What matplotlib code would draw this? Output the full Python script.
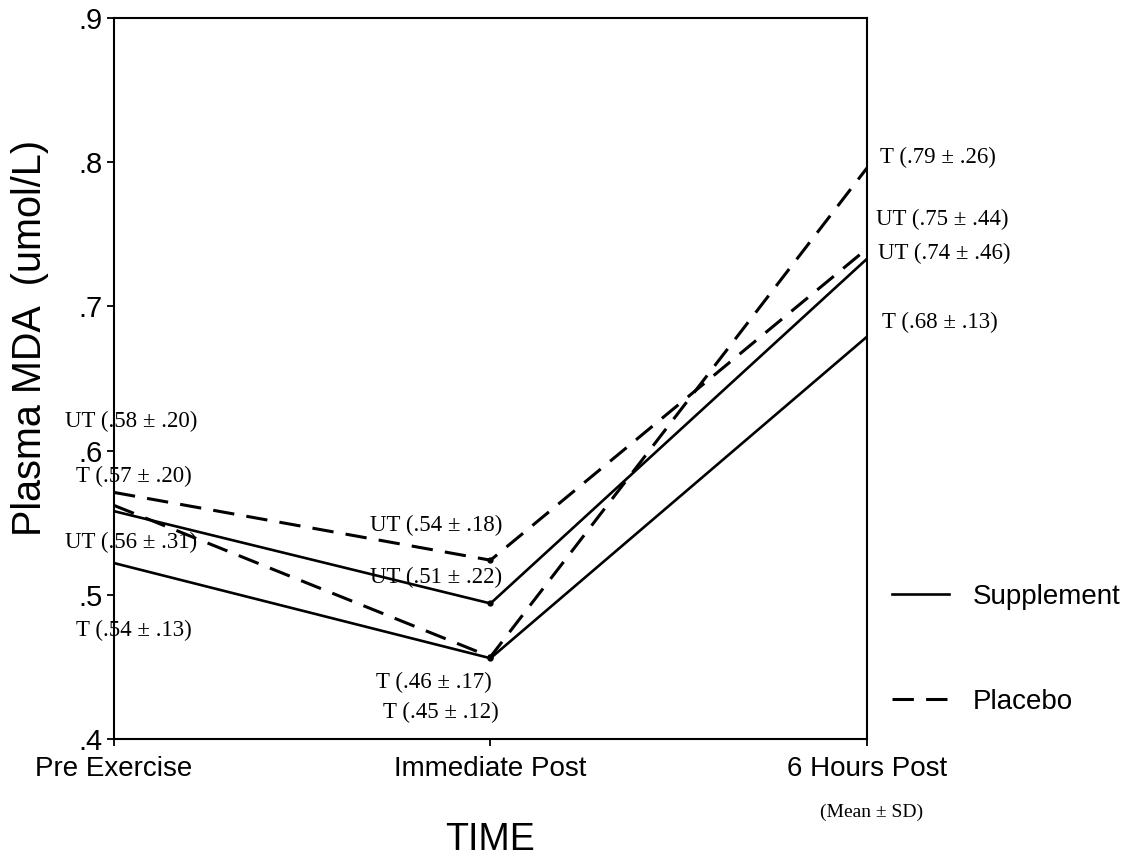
import matplotlib
matplotlib.use("Agg")
import matplotlib.pyplot as plt

# data
categories = ["Pre Exercise", "Immediate Post", "6 Hours Post"]
x = [0, 1, 2]
supp_T = [0.522, 0.456, 0.679]
supp_UT = [0.558, 0.494, 0.733]
plac_T = [0.562, 0.457, 0.796]
plac_UT = [0.571, 0.524, 0.740]

yticks = [0.4, 0.5, 0.6, 0.7, 0.8, 0.9]
ytick_labels = [".4", ".5", ".6", ".7", ".8", ".9"]

# printed annotations: group, mean, sd
pre_notes = [("UT", 0.58, 0.20), ("T", 0.57, 0.20), ("UT", 0.56, 0.31), ("T", 0.54, 0.13)]
imm_notes = [("UT", 0.54, 0.18), ("UT", 0.51, 0.22), ("T", 0.46, 0.17), ("T", 0.45, 0.12)]
post_notes = [("T", 0.79, 0.26), ("UT", 0.75, 0.44), ("UT", 0.74, 0.46), ("T", 0.68, 0.13)]

# where the notes sit (axes data coords)
pre_pos = [(0.045, 0.6205), (0.053, 0.5824), (0.045, 0.5366), (0.053, 0.4756)]
imm_pos = [(0.857, 0.5484), (0.855, 0.5123), (0.850, 0.4395), (0.867, 0.4187)]
post_pos = [(2.035, 0.8036), (2.025, 0.7606), (2.028, 0.737), (2.040, 0.689)]

sans = ["Liberation Sans", "DejaVu Sans"]
serif = ["Liberation Serif", "DejaVu Serif"]


def fmt(v):
    return f"{v:.2f}"[1:]


def note(g, m, s):
    return f"{g} ({fmt(m)} \u00b1 {fmt(s)})"


fig = plt.figure(figsize=(11.3, 8.66), dpi=100)
ax = fig.add_axes([114 / 1130, 1 - 739 / 866, (867 - 114) / 1130, (739 - 18) / 866])

dash = (7, 4)
ln_s, = ax.plot(x, supp_T, color="black", lw=1.9, label="Supplement")
ax.plot(x, supp_UT, color="black", lw=1.9)
ln_p, = ax.plot(x, plac_T, color="black", lw=2.2, dashes=dash, label="Placebo")
ax.plot(x, plac_UT, color="black", lw=2.2, dashes=dash)

# small dots where the lines turn at Immediate Post
mid = [supp_T[1], supp_UT[1], plac_T[1], plac_UT[1]]
ax.plot([x[1]] * len(mid), mid, "o", color="black", ms=3.5)

for (g, m, s), (px, py) in zip(pre_notes, pre_pos):
    ax.text(px, py, note(g, m, s), ha="center", va="center", fontsize=16.5,
            family=serif, clip_on=False)
for (g, m, s), (px, py) in zip(imm_notes, imm_pos):
    ax.text(px, py, note(g, m, s), ha="center", va="center", fontsize=16.5,
            family=serif, clip_on=False)
for (g, m, s), (px, py) in zip(post_notes, post_pos):
    ax.text(px, py, note(g, m, s), ha="left", va="center", fontsize=16.5,
            family=serif, clip_on=False)

ax.set_xlim(0, 2)
ax.set_ylim(0.4, 0.9)
ax.set_yticks(yticks)
ax.set_yticklabels(ytick_labels, family=sans, fontsize=21)
ax.set_xticks(x)
ax.set_xticklabels(categories, family=sans, fontsize=20)
ax.tick_params(axis="both", direction="out", length=5, width=1.3, colors="black")
ax.tick_params(axis="x", pad=7)
ax.tick_params(axis="y", pad=3)
for sp in ax.spines.values():
    sp.set_linewidth(1.5)

fig.text(30 / 1130, 1 - 338 / 866, "Plasma MDA  (umol/L)", rotation=90, ha="center",
         va="center", family=sans, fontsize=28.5)
fig.text(490 / 1130, 1 - 840 / 866, "TIME", ha="center", va="center", family=sans,
         fontsize=27)
fig.text(872 / 1130, 1 - 812 / 866, "(Mean \u00b1 SD)", ha="center", va="center",
         family=serif, fontsize=14)

fig.legend(handles=[ln_s, ln_p], labels=["Supplement", "Placebo"], loc="upper left",
           bbox_to_anchor=(892 / 1130, 1 - 584 / 866), frameon=False, borderpad=0,
           borderaxespad=0, handlelength=2.05, handletextpad=0.85, labelspacing=2.85,
           prop={"family": sans, "size": 20})

fig.savefig("out.png", dpi=100)
